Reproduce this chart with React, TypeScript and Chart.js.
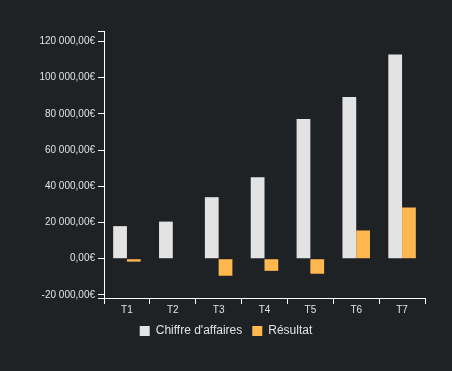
import React, { useEffect, useRef } from "react";
import { Chart, registerables } from "chart.js";

Chart.register(...registerables);

const categories = ["T1", "T2", "T3", "T4", "T5", "T6", "T7"];
const revenue = [18000, 20500, 34000, 45000, 77200, 89400, 112800];
const result = [-1600, 0, -9400, -6700, -8300, 15600, 28300];
const yTicks = [-20000, 0, 20000, 40000, 60000, 80000, 100000, 120000];
const yMin = -21700;
const yMax = 125800;

const BG = "#1f2225";
const TEXT = "#e2e2e2";

function formatEuro(v: number): string {
  const neg = v < 0;
  const abs = Math.abs(v);
  const intPart = Math.floor(abs).toString().replace(/\B(?=(\d{3})+(?!\d))/g, " ");
  const dec = Math.round((abs - Math.floor(abs)) * 100).toString().padStart(2, "0");
  return (neg ? "-" : "") + intPart + "," + dec + "€";
}

export default function App() {
  const ref = useRef<HTMLCanvasElement | null>(null);
  useEffect(() => {
    document.body.style.margin = "0";
    document.body.style.background = BG;
    Chart.defaults.font.family = "'Liberation Sans', Arial, sans-serif";
    const ctx = ref.current!;
    const chart = new Chart(ctx, {
      type: "bar",
      data: {
        labels: categories,
        datasets: [
          {
            label: "Chiffre d'affaires",
            data: revenue,
            backgroundColor: "#e3e3e3",
            borderWidth: 0,
          },
          {
            label: "Résultat",
            data: result,
            backgroundColor: "#ffb84f",
            borderWidth: 0,
          },
        ],
      },
      options: {
        responsive: false,
        animation: false,
        layout: { padding: { top: 31, left: 0, right: 0, bottom: 24 } },
        datasets: { bar: { categoryPercentage: 0.6, barPercentage: 1 } },
        plugins: {
          tooltip: { enabled: false },
          legend: {
            position: "bottom",
            labels: {
              boxWidth: 10,
              boxHeight: 10,
              padding: 10,
              color: TEXT,
              font: { size: 12 },
            },
          },
        },
        scales: {
          x: {
            grid: {
              display: true,
              drawOnChartArea: false,
              drawTicks: true,
              tickLength: 6,
              color: "#ffffff",
              offset: true,
            },
            border: { display: true, color: "#ffffff", width: 1 },
            ticks: { color: TEXT, font: { size: 10 }, padding: 0, maxRotation: 0 },
            afterFit: (s: any) => {
              s.height = 17;
            },
          },
          y: {
            min: yMin,
            max: yMax,
            grid: {
              display: true,
              drawOnChartArea: false,
              drawTicks: true,
              tickLength: 6,
              color: "#ffffff",
            },
            border: { display: true, color: "#ffffff", width: 1 },
            ticks: {
              color: TEXT,
              font: { size: 10 },
              padding: 3,
              autoSkip: false,
              callback: (v: any) => {
                const n = Number(v);
                if (n === yMin || n === yMax) return "";
                return formatEuro(n);
              },
            },
            afterBuildTicks: (s: any) => {
              s.ticks = [yMin, ...yTicks, yMax].map((v) => ({ value: v }));
            },
            afterFit: (s: any) => {
              s.width = 104;
            },
          },
          yRight: {
            type: "linear",
            position: "right",
            display: true,
            grid: { display: false, drawTicks: false },
            border: { display: false },
            ticks: { display: false },
            afterFit: (s: any) => {
              s.width = 27;
            },
          },
        },
      } as any,
    });
    return () => chart.destroy();
  }, []);
  return (
    <div style={{ width: 452, height: 371, background: BG }}>
      <canvas ref={ref} width={452} height={371} style={{ display: "block" }} />
    </div>
  );
}
